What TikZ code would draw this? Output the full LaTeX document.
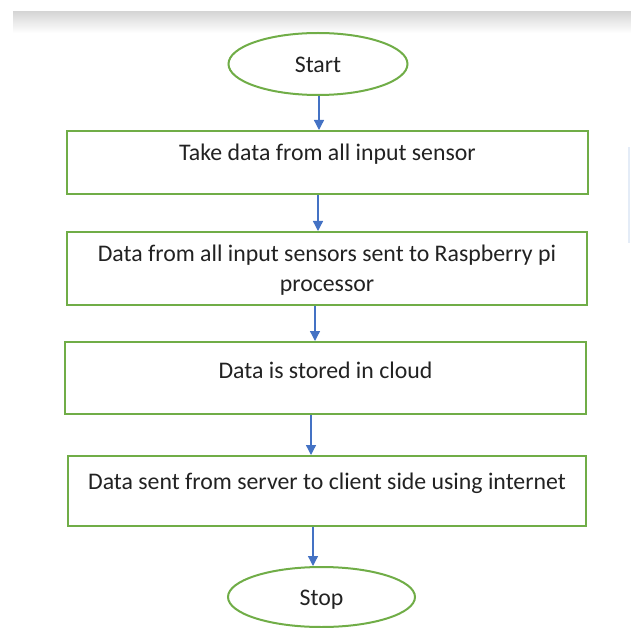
\documentclass[tikz,border=0pt]{standalone}
\usepackage{fontspec}
\setmainfont{Carlito}
\usetikzlibrary{shapes.geometric,arrows.meta}
\definecolor{boxgreen}{HTML}{70AD47}
\definecolor{flowblue}{HTML}{4472C4}
\definecolor{txtgray}{HTML}{222222}
\definecolor{edgeblue}{RGB}{228,236,247}
% moves a label up or down inside its box without changing the box
\newcommand{\lifted}[2][8pt]{\raisebox{#1}[\height][\depth]{#2}}
\begin{document}
\begin{tikzpicture}[x=1pt,y=-1pt,
  labelfont/.style={font=\fontsize{23.8}{30}\selectfont, text=txtgray},
  stepbox/.style={draw=boxgreen, line width=2pt, fill=white, inner sep=0pt,
    align=center, labelfont},
  terminal/.style={ellipse, draw=boxgreen, line width=2pt, fill=white,
    inner sep=0pt, labelfont},
  flow/.style={draw=flowblue, line width=1.3pt,
    -{Triangle[width=10pt,length=10pt]}}]
\useasboundingbox (0,0) rectangle (631,628);

% header shadow strip and faint edge mark
\shade[top color=black!16, bottom color=white] (13,12) rectangle (631,33);
\fill[edgeblue] (628,147) rectangle (630,243);

% flowchart steps
\node[terminal, minimum width=179pt, minimum height=62pt] (start) at (318,64)
  {\lifted[-1pt]{Start}};
\node[stepbox, minimum width=521pt, minimum height=63pt] (b1) at (327.5,162.5)
  {\lifted{Take data from all input sensor}};
\node[stepbox, minimum width=520pt, minimum height=73pt] (b2) at (327,268.5)
  {\lifted[-2pt]{\parbox{500pt}{\centering
    Data from all input sensors sent to Raspberry pi\\processor}}};
\node[stepbox, minimum width=521pt, minimum height=72pt] (b3) at (325.5,378)
  {\lifted{Data is stored in cloud}};
\node[stepbox, minimum width=518pt, minimum height=70pt] (b4) at (327,491)
  {\lifted{Data sent from server to client side using internet}};
\node[terminal, minimum width=187pt, minimum height=60pt] (stop) at (321.5,597)
  {\lifted[-3pt]{Stop}};

% connectors
\draw[flow] ([xshift=1pt]start.south) -- ([xshift=1pt]start.south |- b1.north);
\draw[flow] ([xshift=-9.5pt]b1.south) -- ([xshift=-9.5pt]b1.south |- b2.north);
\draw[flow] ([xshift=-12pt]b2.south) -- ([xshift=-12pt]b2.south |- b3.north);
\draw[flow] ([xshift=-14.5pt]b3.south) -- ([xshift=-14.5pt]b3.south |- b4.north);
\draw[flow] ([xshift=-14pt]b4.south) -- ([xshift=-14pt]b4.south |- stop.north);
\end{tikzpicture}
\end{document}
